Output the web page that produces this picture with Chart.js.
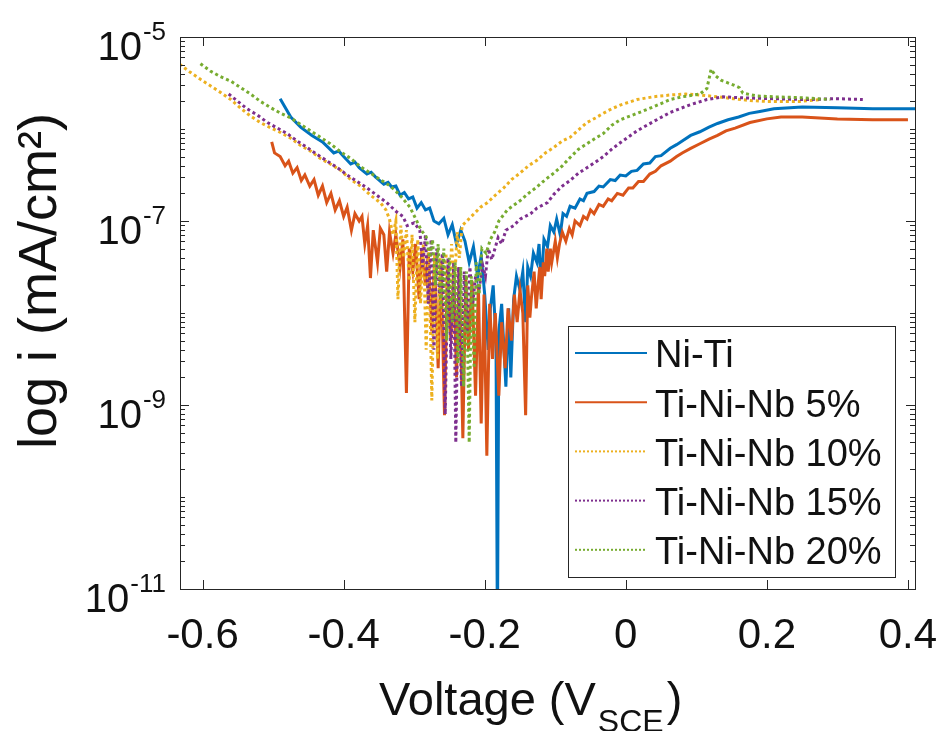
<!DOCTYPE html>
<html>
<head>
<meta charset="utf-8">
<script src="https://cdn.jsdelivr.net/npm/chart.js@4.4.1/dist/chart.umd.min.js"></script>
<style>
  html, body { margin: 0; padding: 0; background: #fff; }
  #wrap { width: 941px; height: 731px; }
</style>
</head>
<body>
<div id="wrap"><canvas id="tafel" width="941" height="731"></canvas></div>
<script>
// polarization curves
// each point is [voltage V_SCE, log10 of i in mA/cm2]
var seriesNames = ["Ni-Ti", "Ti-Ni-Nb 5%", "Ti-Ni-Nb 10%", "Ti-Ni-Nb 15%", "Ti-Ni-Nb 20%"];

var niTiPts = [[-0.490,-5.67],[-0.475,-5.87],[-0.461,-5.98],[-0.445,-6.07],[-0.430,-6.14],[-0.422,-6.20],[-0.414,-6.26],[-0.407,-6.24],[-0.400,-6.30],[-0.390,-6.38],[-0.384,-6.36],[-0.378,-6.42],[-0.367,-6.49],[-0.361,-6.47],[-0.355,-6.52],[-0.343,-6.60],[-0.337,-6.58],[-0.332,-6.63],[-0.326,-6.62],[-0.320,-6.72],[-0.314,-6.69],[-0.308,-6.76],[-0.302,-6.74],[-0.296,-6.86],[-0.290,-6.80],[-0.284,-6.88],[-0.278,-6.86],[-0.272,-7.00],[-0.265,-7.03],[-0.258,-6.97],[-0.252,-7.15],[-0.246,-7.04],[-0.240,-7.25],[-0.234,-7.10],[-0.228,-7.22],[-0.222,-7.45],[-0.216,-7.28],[-0.210,-7.60],[-0.205,-7.38],[-0.200,-7.80],[-0.195,-8.40],[-0.192,-7.95],[-0.188,-7.70],[-0.184,-8.30],[-0.182,-11.6],[-0.180,-8.20],[-0.176,-7.90],[-0.170,-8.80],[-0.166,-7.95],[-0.163,-8.70],[-0.159,-7.85],[-0.155,-7.60],[-0.150,-7.75],[-0.146,-7.55],[-0.142,-8.10],[-0.139,-7.50],[-0.135,-7.60],[-0.131,-7.35],[-0.126,-7.45],[-0.123,-7.25],[-0.120,-7.70],[-0.116,-7.20],[-0.111,-7.28],[-0.107,-7.05],[-0.102,-7.12],[-0.098,-6.98],[-0.093,-7.15],[-0.089,-6.92],[-0.084,-6.95],[-0.079,-6.84],[-0.072,-6.86],[-0.065,-6.76],[-0.060,-6.78],[-0.055,-6.70],[-0.045,-6.68],[-0.038,-6.62],[-0.032,-6.63],[-0.022,-6.55],[-0.015,-6.56],[-0.008,-6.50],[0.000,-6.51],[0.008,-6.46],[0.016,-6.45],[0.025,-6.38],[0.034,-6.37],[0.042,-6.30],[0.050,-6.29],[0.063,-6.21],[0.072,-6.17],[0.080,-6.13],[0.092,-6.07],[0.105,-6.03],[0.118,-5.98],[0.130,-5.94],[0.145,-5.90],[0.160,-5.87],[0.175,-5.83],[0.190,-5.81],[0.210,-5.78],[0.250,-5.76],[0.300,-5.77],[0.350,-5.78],[0.410,-5.78]];

var nb5Pts = [[-0.502,-6.14],[-0.498,-6.26],[-0.490,-6.30],[-0.483,-6.40],[-0.478,-6.35],[-0.472,-6.48],[-0.466,-6.42],[-0.460,-6.56],[-0.455,-6.50],[-0.448,-6.62],[-0.442,-6.55],[-0.436,-6.72],[-0.430,-6.62],[-0.424,-6.80],[-0.418,-6.70],[-0.412,-6.88],[-0.406,-6.78],[-0.400,-6.95],[-0.395,-6.85],[-0.389,-7.10],[-0.384,-6.92],[-0.378,-7.00],[-0.374,-6.95],[-0.370,-7.25],[-0.366,-7.05],[-0.362,-7.62],[-0.358,-7.10],[-0.352,-7.45],[-0.348,-7.08],[-0.343,-7.15],[-0.339,-7.55],[-0.335,-7.12],[-0.330,-7.35],[-0.326,-7.15],[-0.320,-7.50],[-0.316,-7.20],[-0.311,-8.87],[-0.307,-7.30],[-0.302,-7.55],[-0.298,-7.25],[-0.293,-7.85],[-0.289,-7.30],[-0.284,-7.70],[-0.280,-7.35],[-0.275,-8.20],[-0.271,-7.40],[-0.266,-8.60],[-0.262,-7.45],[-0.257,-9.11],[-0.253,-7.50],[-0.248,-8.30],[-0.244,-7.55],[-0.240,-8.70],[-0.236,-7.50],[-0.231,-9.36],[-0.227,-7.60],[-0.223,-8.40],[-0.218,-7.65],[-0.213,-8.90],[-0.209,-7.70],[-0.205,-9.20],[-0.201,-7.80],[-0.197,-9.55],[-0.193,-7.90],[-0.189,-8.50],[-0.185,-8.00],[-0.180,-8.90],[-0.176,-8.10],[-0.171,-8.60],[-0.167,-7.95],[-0.162,-8.30],[-0.158,-7.80],[-0.154,-8.10],[-0.150,-7.75],[-0.146,-8.00],[-0.142,-9.11],[-0.139,-7.70],[-0.136,-8.05],[-0.134,-7.85],[-0.130,-7.55],[-0.127,-7.95],[-0.125,-7.75],[-0.122,-7.50],[-0.120,-7.85],[-0.117,-7.45],[-0.115,-7.60],[-0.112,-7.30],[-0.110,-7.55],[-0.107,-7.30],[-0.105,-7.45],[-0.100,-7.22],[-0.097,-7.40],[-0.094,-7.25],[-0.090,-7.12],[-0.085,-7.22],[-0.080,-7.08],[-0.076,-7.15],[-0.072,-7.00],[-0.065,-7.05],[-0.060,-6.95],[-0.055,-6.98],[-0.050,-6.88],[-0.045,-6.92],[-0.038,-6.82],[-0.032,-6.84],[-0.025,-6.76],[-0.020,-6.78],[-0.012,-6.70],[-0.004,-6.72],[0.004,-6.64],[0.010,-6.64],[0.018,-6.57],[0.025,-6.57],[0.034,-6.49],[0.042,-6.46],[0.050,-6.40],[0.063,-6.35],[0.072,-6.30],[0.080,-6.26],[0.092,-6.21],[0.105,-6.16],[0.118,-6.11],[0.130,-6.07],[0.142,-6.02],[0.155,-5.99],[0.176,-5.93],[0.200,-5.89],[0.220,-5.87],[0.250,-5.87],[0.300,-5.89],[0.350,-5.90],[0.400,-5.90]];

var nb10Pts = [[-0.640,-5.26],[-0.632,-5.30],[-0.618,-5.38],[-0.603,-5.46],[-0.589,-5.53],[-0.575,-5.60],[-0.560,-5.68],[-0.545,-5.78],[-0.532,-5.86],[-0.518,-5.93],[-0.503,-5.99],[-0.489,-6.04],[-0.475,-6.10],[-0.461,-6.18],[-0.447,-6.24],[-0.433,-6.32],[-0.419,-6.38],[-0.404,-6.45],[-0.390,-6.55],[-0.376,-6.62],[-0.362,-6.72],[-0.348,-6.80],[-0.340,-6.88],[-0.335,-6.98],[-0.330,-7.15],[-0.326,-7.00],[-0.323,-7.85],[-0.319,-7.05],[-0.315,-7.40],[-0.311,-7.10],[-0.307,-7.65],[-0.303,-7.15],[-0.299,-8.10],[-0.295,-7.20],[-0.291,-7.90],[-0.287,-7.25],[-0.283,-8.40],[-0.279,-7.30],[-0.275,-8.95],[-0.271,-7.35],[-0.267,-8.50],[-0.263,-7.40],[-0.259,-8.20],[-0.255,-7.35],[-0.251,-8.00],[-0.247,-7.25],[-0.243,-7.70],[-0.239,-7.12],[-0.236,-7.40],[-0.232,-7.05],[-0.224,-6.99],[-0.215,-6.92],[-0.206,-6.85],[-0.196,-6.80],[-0.185,-6.72],[-0.173,-6.64],[-0.162,-6.55],[-0.150,-6.48],[-0.138,-6.40],[-0.126,-6.34],[-0.114,-6.26],[-0.102,-6.20],[-0.090,-6.13],[-0.079,-6.09],[-0.067,-6.01],[-0.055,-5.93],[-0.043,-5.88],[-0.032,-5.83],[-0.020,-5.78],[-0.008,-5.74],[0.016,-5.68],[0.039,-5.65],[0.063,-5.63],[0.085,-5.62],[0.105,-5.63],[0.130,-5.65],[0.152,-5.67],[0.176,-5.69],[0.200,-5.70],[0.225,-5.70],[0.247,-5.70],[0.275,-5.68]];

var nb15Pts = [[-0.563,-5.62],[-0.550,-5.70],[-0.537,-5.78],[-0.522,-5.85],[-0.508,-5.93],[-0.494,-5.99],[-0.480,-6.05],[-0.466,-6.13],[-0.452,-6.20],[-0.437,-6.28],[-0.423,-6.35],[-0.409,-6.42],[-0.395,-6.50],[-0.381,-6.57],[-0.367,-6.64],[-0.353,-6.72],[-0.339,-6.80],[-0.325,-6.90],[-0.316,-6.95],[-0.310,-7.05],[-0.300,-7.02],[-0.292,-7.10],[-0.288,-7.50],[-0.284,-7.15],[-0.280,-7.90],[-0.276,-7.20],[-0.272,-8.40],[-0.268,-7.30],[-0.264,-7.80],[-0.260,-7.35],[-0.256,-9.10],[-0.252,-7.40],[-0.248,-8.50],[-0.244,-7.45],[-0.241,-9.41],[-0.237,-7.50],[-0.233,-8.80],[-0.229,-7.55],[-0.225,-8.20],[-0.221,-7.50],[-0.217,-7.90],[-0.213,-7.60],[-0.208,-7.75],[-0.203,-7.48],[-0.199,-7.60],[-0.195,-7.30],[-0.190,-7.42],[-0.181,-7.18],[-0.176,-7.25],[-0.170,-7.10],[-0.159,-7.05],[-0.150,-6.98],[-0.135,-6.92],[-0.126,-6.86],[-0.111,-6.80],[-0.102,-6.71],[-0.090,-6.62],[-0.079,-6.56],[-0.067,-6.48],[-0.055,-6.42],[-0.043,-6.36],[-0.032,-6.30],[-0.020,-6.22],[-0.008,-6.15],[0.016,-6.02],[0.039,-5.92],[0.063,-5.82],[0.090,-5.74],[0.115,-5.68],[0.138,-5.65],[0.162,-5.66],[0.209,-5.67],[0.256,-5.68],[0.300,-5.67],[0.336,-5.68]];

var nb20Pts = [[-0.603,-5.29],[-0.589,-5.37],[-0.575,-5.43],[-0.560,-5.48],[-0.546,-5.55],[-0.532,-5.62],[-0.518,-5.70],[-0.503,-5.77],[-0.489,-5.83],[-0.475,-5.88],[-0.461,-5.95],[-0.447,-6.02],[-0.433,-6.09],[-0.419,-6.16],[-0.404,-6.25],[-0.390,-6.32],[-0.376,-6.41],[-0.362,-6.48],[-0.348,-6.55],[-0.334,-6.62],[-0.320,-6.72],[-0.306,-6.85],[-0.297,-6.99],[-0.290,-7.10],[-0.283,-7.17],[-0.278,-7.40],[-0.274,-7.20],[-0.270,-7.70],[-0.266,-7.25],[-0.262,-7.95],[-0.258,-7.30],[-0.254,-8.30],[-0.250,-7.40],[-0.246,-8.10],[-0.242,-7.45],[-0.238,-8.55],[-0.234,-7.50],[-0.230,-8.80],[-0.226,-7.55],[-0.222,-9.41],[-0.219,-7.60],[-0.215,-8.60],[-0.212,-7.45],[-0.208,-7.80],[-0.204,-7.30],[-0.198,-7.35],[-0.192,-7.20],[-0.186,-7.12],[-0.180,-7.00],[-0.168,-6.88],[-0.150,-6.78],[-0.138,-6.70],[-0.126,-6.63],[-0.114,-6.55],[-0.102,-6.48],[-0.090,-6.40],[-0.079,-6.31],[-0.067,-6.22],[-0.055,-6.16],[-0.043,-6.10],[-0.032,-6.05],[-0.020,-5.96],[-0.008,-5.90],[0.016,-5.83],[0.039,-5.76],[0.063,-5.68],[0.080,-5.65],[0.105,-5.62],[0.115,-5.56],[0.121,-5.35],[0.127,-5.42],[0.135,-5.47],[0.152,-5.52],[0.161,-5.55],[0.166,-5.61],[0.185,-5.64],[0.209,-5.65],[0.250,-5.66],[0.290,-5.68]];

var xTickValues = [-0.6, -0.4, -0.2, 0, 0.2, 0.4];
var xTickLabels = ["-0.6", "-0.4", "-0.2", "0", "0.2", "0.4"];
var yTickExponents = [-5, -7, -9, -11];

var colors = ["#0072BD", "#D95319", "#EDB120", "#7E2F8E", "#77AC30"];
var dotted = [false, false, true, true, true];
var allPts = [niTiPts, nb5Pts, nb10Pts, nb15Pts, nb20Pts];

var FONT = "'Liberation Sans', Arial, Helvetica, sans-serif";

function toPoints(pts) {
    return pts.map(function (p) { return { x: p[0], y: Math.pow(10, p[1]) }; });
}

var datasets = allPts.map(function (pts, i) {
    return {
        label: seriesNames[i],
        data: toPoints(pts),
        borderColor: colors[i],
        backgroundColor: colors[i],
        borderWidth: 3,
        borderDash: dotted[i] ? [3, 3] : [],
        pointRadius: 0,
        fill: false,
        tension: 0,
        order: allPts.length - i   // later series drawn on top, like matlab
    };
});

// axes box, inward ticks, superscript labels, titles and legend
var tafelDecor = {
    id: "tafelDecor",
    afterDraw: function (chart) {
        var ctx = chart.ctx, a = chart.chartArea;
        var xs = chart.scales.x, ys = chart.scales.y;
        ctx.save();
        ctx.strokeStyle = "#262626";
        ctx.lineWidth = 1;

        function seg(x1, y1, x2, y2) {
            ctx.beginPath(); ctx.moveTo(x1, y1); ctx.lineTo(x2, y2); ctx.stroke();
        }

        ctx.strokeRect(Math.round(a.left) + 0.5, Math.round(a.top) + 0.5,
            Math.round(a.right - a.left), Math.round(a.bottom - a.top));

        xTickValues.forEach(function (v) {
            var px = Math.round(xs.getPixelForValue(v)) + 0.5;
            seg(px, a.bottom, px, a.bottom - 9);
            seg(px, a.top, px, a.top + 9);
        });

        for (var e = -11; e <= -5; e++) {
            for (var m = 1; m <= 9; m++) {
                if (e === -5 && m > 1) break;
                var py = Math.round(ys.getPixelForValue(m * Math.pow(10, e))) + 0.5;
                var len = (m === 1 && yTickExponents.indexOf(e) >= 0) ? 9 : 5;
                seg(a.left, py, a.left + len, py);
                seg(a.right, py, a.right - len, py);
            }
        }

        // y tick labels 10^n
        ctx.fillStyle = "#111";
        ctx.textBaseline = "alphabetic";
        yTickExponents.forEach(function (e) {
            var py = ys.getPixelForValue(Math.pow(10, e));
            var expTxt = String(e);
            ctx.font = "26px " + FONT;
            var ew = ctx.measureText(expTxt).width;
            ctx.textAlign = "right";
            ctx.fillText(expTxt, 166, py + 3);
            ctx.font = "40px " + FONT;
            ctx.fillText("10", 166 - ew - 1, py + 23);
        });

        // y title
        ctx.save();
        ctx.translate(56, 281);
        ctx.rotate(-Math.PI / 2);
        ctx.font = "54px " + FONT;
        ctx.textAlign = "center";
        ctx.fillText("log i (mA/cm\u00B2)", 0, 0);
        ctx.restore();

        // x title with subscript
        ctx.textAlign = "left";
        ctx.font = "47px " + FONT;
        var t1 = "Voltage (V";
        var x0 = 379;
        ctx.fillText(t1, x0, 715);
        x0 += ctx.measureText(t1).width;
        ctx.font = "32px " + FONT;
        ctx.fillText("SCE", x0 + 2, 732);
        x0 += ctx.measureText("SCE").width + 5;
        ctx.font = "47px " + FONT;
        ctx.fillText(")", x0, 715);

        // legend
        var lx = 568, ly = 326, lw = 327, lh = 251;
        ctx.fillStyle = "#fff";
        ctx.fillRect(lx, ly, lw, lh);
        ctx.strokeStyle = "#262626";
        ctx.lineWidth = 1;
        ctx.strokeRect(lx + 0.5, ly + 0.5, lw, lh);
        chart.data.datasets.forEach(function (ds, i) {
            var ry = 353 + i * 49.2;
            ctx.strokeStyle = ds.borderColor;
            ctx.lineWidth = 2;
            ctx.setLineDash(ds.borderDash.length ? [2, 2] : []);
            seg(575, ry, 647, ry);
            ctx.setLineDash([]);
            ctx.fillStyle = "#111";
            ctx.font = "38px " + FONT;
            ctx.textBaseline = "middle";
            ctx.fillText(ds.label, 655, ry + 4);
        });
        ctx.restore();
    }
};

var chart = new Chart(document.getElementById("tafel").getContext("2d"), {
    type: "line",
    data: { datasets: datasets },
    plugins: [tafelDecor],
    options: {
        responsive: false,
        animation: false,
        devicePixelRatio: 1,
        layout: { padding: { top: 37, right: 26, left: 0, bottom: 0 } },
        plugins: { legend: { display: false }, tooltip: { enabled: false } },
        scales: {
            x: {
                type: "linear",
                min: -0.632,
                max: 0.41,
                grid: { display: false, drawTicks: false },
                border: { display: false },
                afterBuildTicks: function (scale) {
                    scale.ticks = xTickValues.map(function (v) { return { value: v }; });
                },
                afterFit: function (scale) {
                    scale.height = 142;
                    scale.paddingLeft = 0;
                    scale.paddingRight = 0;
                },
                ticks: {
                    autoSkip: false,
                    maxRotation: 0,
                    padding: 22,
                    color: "#111",
                    font: { family: FONT, size: 42 },
                    callback: function (v) {
                        var k = xTickValues.indexOf(v);
                        return k >= 0 ? xTickLabels[k] : "";
                    }
                }
            },
            y: {
                type: "logarithmic",
                min: 1e-11,
                max: 1e-5,
                grid: { display: false, drawTicks: false },
                border: { display: false },
                ticks: { display: false },
                afterFit: function (scale) { scale.width = 180; }
            }
        }
    }
});
</script>
</body>
</html>
